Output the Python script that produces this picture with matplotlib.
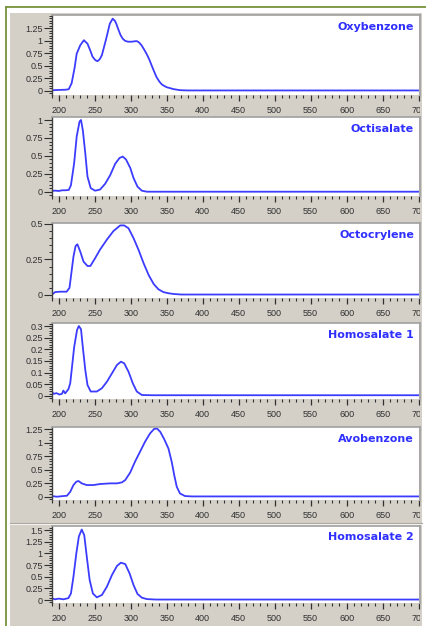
import matplotlib
matplotlib.use("Agg")
import matplotlib.pyplot as plt
from matplotlib.ticker import MultipleLocator, FixedLocator, FixedFormatter
from matplotlib.transforms import Bbox, TransformedBbox
from matplotlib.lines import Line2D
from matplotlib.patches import Rectangle

# ---------------- data ----------------
names = ["Oxybenzone", "Octisalate", "Octocrylene", "Homosalate 1", "Avobenzone", "Homosalate 2"]

oxy_nm = [190, 193, 200, 210, 214, 218, 222, 225, 230, 235, 240, 244, 247, 251, 254, 257,
          260, 266, 271, 275, 278, 280, 283, 286, 289, 292, 296, 302, 306, 309, 312, 315,
          318, 322, 326, 329, 333, 336, 340, 343, 346, 350, 360, 369, 380, 702]
oxy_abs = [0.01, 0.01, 0.015, 0.02, 0.03, 0.15, 0.45, 0.74, 0.91, 1.01, 0.94, 0.80, 0.68,
           0.61, 0.59, 0.63, 0.71, 1.04, 1.34, 1.44, 1.40, 1.34, 1.22, 1.11, 1.04, 1.0,
           0.98, 0.98, 0.99, 0.99, 0.96, 0.91, 0.84, 0.74, 0.62, 0.51, 0.37, 0.27, 0.18,
           0.13, 0.10, 0.07, 0.03, 0.01, 0.005, 0.005]

octi_nm = [190, 195, 200, 205, 210, 214, 217, 221.5, 225, 229, 231, 233.5, 237, 240, 244.5,
           250.5, 257.5, 264.5, 271.5, 278.5, 284.5, 289, 293.5, 299.5, 304, 309.5, 315.5,
           322.5, 702]
octi_abs = [0.01, 0.015, 0.01, 0.02, 0.02, 0.025, 0.09, 0.40, 0.77, 0.98, 1.0, 0.86, 0.53,
            0.21, 0.05, 0.014, 0.03, 0.11, 0.23, 0.39, 0.47, 0.49, 0.45, 0.33, 0.19, 0.07,
            0.014, 0.0, 0.0]

octo_nm = [190, 195, 202, 211, 215, 217, 220.5, 223.5, 226, 230, 234.5, 240, 244, 250.5,
           257.5, 267, 276, 285.5, 291, 297, 304, 311, 318, 325, 332, 338.5, 345.5, 352.5,
           359.5, 370, 702]
octo_abs = [0.0, 0.02, 0.023, 0.023, 0.05, 0.13, 0.27, 0.345, 0.357, 0.305, 0.235, 0.204,
            0.204, 0.258, 0.32, 0.39, 0.45, 0.49, 0.49, 0.47, 0.40, 0.317, 0.223, 0.14,
            0.077, 0.04, 0.02, 0.012, 0.007, 0.003, 0.003]

homo1_nm = [190, 193, 197, 201, 204.5, 206.5, 209, 213.5, 216, 218, 221.5, 225.5, 228, 231,
            233.5, 237, 240, 244.5, 253, 260, 267, 274, 281, 286.5, 291, 297, 303, 308.5,
            315.5, 330, 702]
homo1_abs = [0.019, 0.009, 0.012, 0.006, 0.009, 0.023, 0.011, 0.029, 0.054, 0.11, 0.21,
             0.283, 0.30, 0.286, 0.21, 0.11, 0.047, 0.019, 0.019, 0.033, 0.061, 0.097,
             0.133, 0.147, 0.14, 0.104, 0.054, 0.019, 0.004, 0.003, 0.003]

avo_nm = [190, 197.5, 205, 211.5, 216, 220.5, 224.5, 227.5, 232, 239, 248, 257.5, 271.5,
          281, 288, 292.5, 299.5, 306, 313, 320, 327, 332.5, 336.5, 341, 346.5, 352.5, 357,
          360.5, 364, 368.5, 375.5, 385, 702]
avo_abs = [0.012, 0.0, 0.01, 0.018, 0.09, 0.215, 0.277, 0.29, 0.246, 0.215, 0.215, 0.234,
           0.246, 0.246, 0.265, 0.308, 0.45, 0.646, 0.83, 1.016, 1.17, 1.25, 1.26, 1.2,
           1.065, 0.89, 0.646, 0.4, 0.185, 0.06, 0.012, 0.005, 0.005]

homo2_nm = [190.5, 195, 200, 206.5, 213.5, 217, 220.5, 224.5, 228, 232, 235.5, 239, 243,
            247.5, 253, 260, 267, 274, 281, 286.5, 292.5, 298.5, 304, 309.5, 315.5, 322.5,
            335, 702]
homo2_abs = [0.036, 0.015, 0.03, 0.015, 0.04, 0.14, 0.5, 1.0, 1.36, 1.51, 1.39, 0.93, 0.43,
             0.14, 0.057, 0.107, 0.286, 0.536, 0.73, 0.80, 0.77, 0.57, 0.32, 0.13, 0.05,
             0.02, 0.01, 0.01]

series_nm = [oxy_nm, octi_nm, octo_nm, homo1_nm, avo_nm, homo2_nm]
series_abs = [oxy_abs, octi_abs, octo_abs, homo1_abs, avo_abs, homo2_abs]

x_ticks = [200, 250, 300, 350, 400, 450, 500, 550, 600, 650, 700]
x_tick_labels = ["200", "250", "300", "350", "400", "450", "500", "550", "600", "650", "700"]

y_ticks = [
    [0, 0.25, 0.5, 0.75, 1, 1.25],
    [0, 0.25, 0.5, 0.75, 1],
    [0, 0.25, 0.5],
    [0, 0.05, 0.1, 0.15, 0.2, 0.25, 0.3],
    [0, 0.25, 0.5, 0.75, 1, 1.25],
    [0, 0.25, 0.5, 0.75, 1, 1.25, 1.5],
]
y_tick_labels = [
    ["0", "0.25", "0.5", "0.75", "1", "1.25"],
    ["0", "0.25", "0.5", "0.75", "1"],
    ["0", "0.25", "0.5"],
    ["0", "0.05", "0.1", "0.15", "0.2", "0.25", "0.3"],
    ["0", "0.25", "0.5", "0.75", "1", "1.25"],
    ["0", "0.25", "0.5", "0.75", "1", "1.25", "1.5"],
]
y_minor_step = [0.05, 0.05, 0.05, 0.01, 0.05, 0.05]
y_limits = [(-0.086, 1.514), (-0.06, 1.042), (-0.018, 0.507), (-0.011, 0.313),
            (-0.061, 1.287), (-0.064, 1.586)]

# ---------------- layout ----------------
W, H = 426, 626
fig = plt.figure(figsize=(W / 100, H / 100), dpi=100)
fig.patch.set_facecolor("white")

def fx(px):
    return px / W

def fy(py):
    return 1 - py / H

GRAY = "#d4d0c8"
BLUE = "#3c3cff"
TITLE_BLUE = "#2f2fff"
GREEN = "#76923c"

# gray window area
fig.add_artist(Rectangle((fx(10), fy(626)), fx(422) - fx(10), fy(13) - fy(626),
                         transform=fig.transFigure, facecolor=GRAY, edgecolor="none", zorder=0))
# green frame
fig.add_artist(Line2D([fx(6), fx(426)], [fy(7), fy(7)], transform=fig.transFigure,
                      color=GREEN, lw=1.3))
fig.add_artist(Line2D([fx(6), fx(6)], [fy(7), fy(626)], transform=fig.transFigure,
                      color=GREEN, lw=1.3))
# separator between last two panels
fig.add_artist(Line2D([fx(10), fx(422)], [fy(523), fy(523)], transform=fig.transFigure,
                      color="#a8a49c", lw=0.8))
fig.add_artist(Line2D([fx(10), fx(422)], [fy(524), fy(524)], transform=fig.transFigure,
                      color="#f4f2ee", lw=0.8))

panel_px = [(15, 95), (117, 196), (223, 297.5), (323, 398.5), (427, 500), (526, 603)]
left_px, right_px = 51.5, 420

clipbox = TransformedBbox(Bbox([[0, 0], [fx(420), 1]]), fig.transFigure)

for i in range(6):
    top, bot = panel_px[i]
    ax = fig.add_axes([fx(left_px), fy(bot), fx(right_px) - fx(left_px), fy(top) - fy(bot)])
    ax.set_facecolor("white")
    ax.plot(series_nm[i], series_abs[i], color=BLUE, lw=1.3, solid_joinstyle="round")
    ax.set_xlim(190, 702)
    ax.set_ylim(*y_limits[i])

    ax.xaxis.set_major_locator(FixedLocator(x_ticks))
    ax.xaxis.set_major_formatter(FixedFormatter(x_tick_labels))
    ax.xaxis.set_minor_locator(MultipleLocator(10))
    ax.yaxis.set_major_locator(FixedLocator(y_ticks[i]))
    ax.yaxis.set_major_formatter(FixedFormatter(y_tick_labels[i]))
    ax.yaxis.set_minor_locator(MultipleLocator(y_minor_step[i]))

    ax.tick_params(axis="x", which="major", direction="out", length=4.5, width=0.9,
                   color="#303030", pad=3.5, labelsize=6.5, labelcolor="#303030")
    ax.tick_params(axis="x", which="minor", direction="out", length=2.3, width=0.8,
                   color="#303030")
    ax.tick_params(axis="y", which="major", direction="out", length=5.5, width=0.8,
                   color="#303030", pad=0.8, labelsize=6.5, labelcolor="#303030")
    ax.tick_params(axis="y", which="minor", direction="out", length=2.5, width=0.7,
                   color="#303030")

    for lab in ax.get_xticklabels():
        lab.set_family(["Liberation Sans", "DejaVu Sans"])
        lab.set_clip_box(clipbox)
        lab.set_clip_on(True)
    for lab in ax.get_yticklabels():
        lab.set_family(["Liberation Sans", "DejaVu Sans"])

    ax.spines["left"].set_color("#404040")
    ax.spines["left"].set_linewidth(1.0)
    ax.spines["top"].set_color("#a0a0a0")
    ax.spines["top"].set_linewidth(1.2)
    ax.spines["right"].set_color("#a8a8a8")
    ax.spines["right"].set_linewidth(1.5)
    ax.spines["bottom"].set_visible(False)

    ax.text(0.984, 1 - 11.5 / (bot - top), names[i], transform=ax.transAxes,
            ha="right", va="center", fontsize=8, fontweight="bold",
            color=TITLE_BLUE, family=["DejaVu Sans"])

fig.savefig("out.png", dpi=100, facecolor="white")
